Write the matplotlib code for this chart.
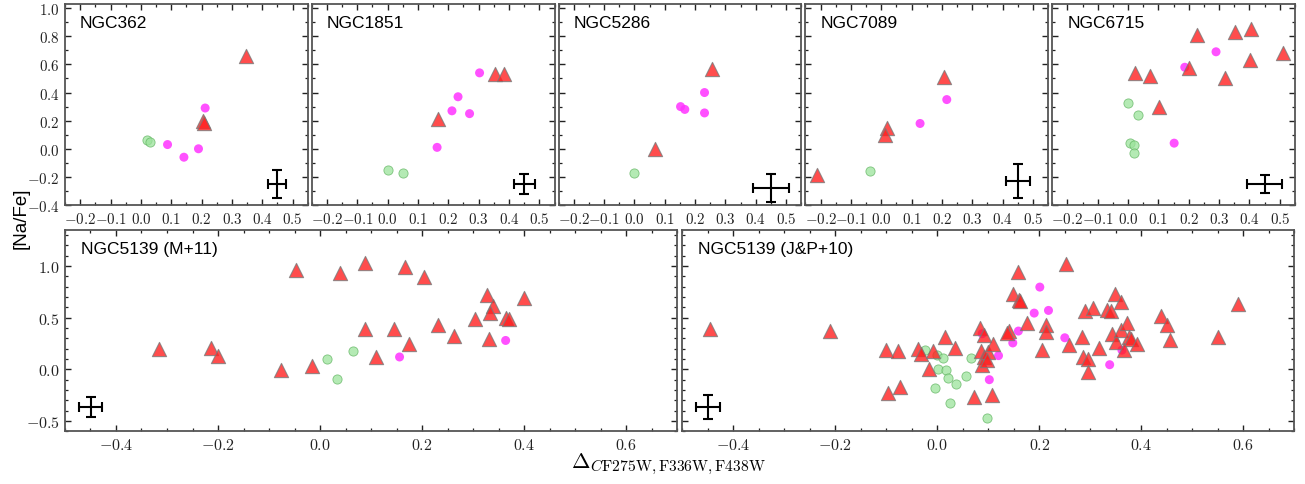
import matplotlib
matplotlib.use('Agg')
import matplotlib.pyplot as plt
from matplotlib.ticker import MultipleLocator, FuncFormatter

plt.rcParams['mathtext.fontset'] = 'cm'
plt.rcParams['mathtext.default'] = 'rm'
plt.rcParams['font.family'] = ['Liberation Sans', 'DejaVu Sans']

# ---------------- data ----------------
panel_names = ['NGC362', 'NGC1851', 'NGC5286', 'NGC7089', 'NGC6715']

ngc362_tri_x = [0.347, 0.205, 0.208]
ngc362_tri_y = [0.66, 0.20, 0.18]
ngc362_mag_x = [0.212, 0.190, 0.142, 0.088]
ngc362_mag_y = [0.29, 0.00, -0.06, 0.03]
ngc362_grn_x = [0.020, 0.030]
ngc362_grn_y = [0.065, 0.05]

ngc1851_tri_x = [0.165, 0.353, 0.383]
ngc1851_tri_y = [0.21, 0.53, 0.53]
ngc1851_mag_x = [0.163, 0.212, 0.232, 0.270, 0.303]
ngc1851_mag_y = [0.01, 0.27, 0.37, 0.25, 0.54]
ngc1851_grn_x = [0.000, 0.050]
ngc1851_grn_y = [-0.15, -0.17]

ngc5286_tri_x = [0.068, 0.257]
ngc5286_tri_y = [0.00, 0.565]
ngc5286_mag_x = [0.152, 0.166, 0.231, 0.231]
ngc5286_mag_y = [0.30, 0.28, 0.40, 0.255]
ngc5286_grn_x = [0.000]
ngc5286_grn_y = [-0.17]

ngc7089_tri_x = [-0.212, 0.018, 0.013, 0.207]
ngc7089_tri_y = [-0.19, 0.145, 0.10, 0.51]
ngc7089_mag_x = [0.128, 0.216]
ngc7089_mag_y = [0.18, 0.35]
ngc7089_grn_x = [-0.038]
ngc7089_grn_y = [-0.16]

ngc6715_tri_x = [0.022, 0.072, 0.103, 0.200, 0.228, 0.320, 0.354, 0.405, 0.403, 0.510]
ngc6715_tri_y = [0.54, 0.52, 0.30, 0.575, 0.81, 0.505, 0.83, 0.85, 0.635, 0.68]
ngc6715_mag_x = [0.187, 0.290, 0.152]
ngc6715_mag_y = [0.58, 0.69, 0.04]
ngc6715_grn_x = [0.000, 0.033, 0.008, 0.019, 0.019]
ngc6715_grn_y = [0.325, 0.24, 0.04, 0.03, -0.03]

# error bars: x, y, xerr, yerr
ngc362_err = [0.45, -0.25, 0.030, 0.10]
ngc1851_err = [0.45, -0.25, 0.035, 0.07]
ngc5286_err = [0.45, -0.28, 0.060, 0.10]
ngc7089_err = [0.45, -0.23, 0.040, 0.12]
ngc6715_err = [0.45, -0.25, 0.057, 0.065]

m11_tri_x = [-0.315, -0.213, -0.200, -0.077, -0.016, -0.047, 0.040, 0.089, 0.088,
             0.166, 0.203, 0.146, 0.175, 0.109, 0.232, 0.263, 0.303, 0.328, 0.340,
             0.334, 0.364, 0.370, 0.332, 0.400]
m11_tri_y = [0.20, 0.21, 0.125, -0.005, 0.03, 0.96, 0.93, 1.03, 0.39,
             0.99, 0.89, 0.39, 0.25, 0.12, 0.43, 0.32, 0.49, 0.72, 0.61,
             0.55, 0.50, 0.49, 0.29, 0.69]
m11_mag_x = [0.156, 0.364]
m11_mag_y = [0.12, 0.28]
m11_grn_x = [0.014, 0.033, 0.064]
m11_grn_y = [0.10, -0.095, 0.18]
m11_err = [-0.45, -0.365, 0.023, 0.10]

jp10_tri_x = [-0.445, -0.210, -0.100, -0.077, -0.037, -0.032, -0.008, 0.015, 0.035,
              -0.016, -0.096, -0.073, 0.072, 0.108, 0.083, 0.091, 0.085, 0.092,
              0.087, 0.100, 0.097, 0.110, 0.140, 0.137, 0.148, 0.158, 0.160, 0.162,
              0.175, 0.205, 0.213, 0.214, 0.252, 0.258, 0.283, 0.285, 0.295, 0.295,
              0.290, 0.305, 0.318, 0.333, 0.341, 0.348, 0.360, 0.342, 0.350, 0.360,
              0.371, 0.376, 0.379, 0.366, 0.391, 0.438, 0.450, 0.456, 0.550, 0.590]
jp10_tri_y = [0.39, 0.375, 0.19, 0.175, 0.20, 0.148, 0.182, 0.312, 0.207,
              0.005, -0.233, -0.175, -0.272, -0.25, 0.405, 0.33, 0.18, 0.12,
              0.04, 0.17, 0.095, 0.245, 0.375, 0.35, 0.73, 0.94, 0.674, 0.66,
              0.45, 0.187, 0.425, 0.36, 1.016, 0.232, 0.313, 0.12, 0.104, -0.026,
              0.565, 0.598, 0.206, 0.577, 0.564, 0.73, 0.65, 0.34, 0.265, 0.377,
              0.448, 0.313, 0.297, 0.19, 0.248, 0.513, 0.426, 0.287, 0.313, 0.635]
jp10_mag_x = [0.201, 0.190, 0.218, 0.159, 0.148, 0.120, 0.102, 0.088, 0.250, 0.338, 0.362]
jp10_mag_y = [0.797, 0.545, 0.571, 0.371, 0.256, 0.133, -0.10, 0.345, 0.306, 0.045, 0.186]
jp10_grn_x = [-0.025, -0.001, 0.012, 0.002, 0.017, 0.021, 0.037, 0.057, 0.067, -0.005, 0.025, 0.098]
jp10_grn_y = [0.19, 0.14, 0.113, 0.0, -0.01, -0.08, -0.145, -0.065, 0.113, -0.18, -0.326, -0.47]
jp10_err = [-0.45, -0.365, 0.023, 0.12]

top_data = [
    (ngc362_tri_x, ngc362_tri_y, ngc362_mag_x, ngc362_mag_y, ngc362_grn_x, ngc362_grn_y, ngc362_err),
    (ngc1851_tri_x, ngc1851_tri_y, ngc1851_mag_x, ngc1851_mag_y, ngc1851_grn_x, ngc1851_grn_y, ngc1851_err),
    (ngc5286_tri_x, ngc5286_tri_y, ngc5286_mag_x, ngc5286_mag_y, ngc5286_grn_x, ngc5286_grn_y, ngc5286_err),
    (ngc7089_tri_x, ngc7089_tri_y, ngc7089_mag_x, ngc7089_mag_y, ngc7089_grn_x, ngc7089_grn_y, ngc7089_err),
    (ngc6715_tri_x, ngc6715_tri_y, ngc6715_mag_x, ngc6715_mag_y, ngc6715_grn_x, ngc6715_grn_y, ngc6715_err),
]
bottom_names = ['NGC5139 (M+11)', 'NGC5139 (J&P+10)']
bottom_data = [
    (m11_tri_x, m11_tri_y, m11_mag_x, m11_mag_y, m11_grn_x, m11_grn_y, m11_err),
    (jp10_tri_x, jp10_tri_y, jp10_mag_x, jp10_mag_y, jp10_grn_x, jp10_grn_y, jp10_err),
]

# ---------------- styling ----------------
W, H = 1305, 485
fig = plt.figure(figsize=(W / 100, H / 100), dpi=100)

def fmt(v, pos):
    s = f'{abs(v):.1f}'
    if s == '0.0':
        return r'$\mathrm{0.0}$'
    return (r'$-\mathrm{' if v < 0 else r'$\mathrm{') + s + '}$'

def style(ax, xmaj, xmin, ymaj, ymin, ylabels, lsize):
    ax.xaxis.set_major_locator(MultipleLocator(xmaj))
    ax.xaxis.set_minor_locator(MultipleLocator(xmin))
    ax.yaxis.set_major_locator(MultipleLocator(ymaj))
    ax.yaxis.set_minor_locator(MultipleLocator(ymin))
    ax.xaxis.set_major_formatter(FuncFormatter(fmt))
    ax.yaxis.set_major_formatter(FuncFormatter(fmt))
    ax.tick_params(which='both', direction='in', top=True, right=True,
                   labelsize=lsize, colors='#222222', pad=4)
    ax.tick_params(which='major', length=4.5, width=1.0)
    ax.tick_params(which='minor', length=2.3, width=0.9)
    if not ylabels:
        ax.tick_params(labelleft=False)
    for sp in ax.spines.values():
        sp.set_color('#555555')
        sp.set_linewidth(1.3)

def draw(ax, d):
    tx, ty, mx, my, gx, gy, err = d
    ax.scatter(gx, gy, s=44, marker='o', facecolor='#9be39b', edgecolor='#5fb35f',
               linewidth=0.6, alpha=0.75, zorder=2)
    ax.scatter(mx, my, s=42, marker='o', facecolor='#ff33ff', edgecolor='none',
               alpha=0.85, zorder=3)
    ax.scatter(tx, ty, s=105, marker='^', facecolor='#ff2020', edgecolor='#7a7a7a',
               linewidth=0.8, alpha=0.8, zorder=4)
    ax.errorbar([err[0]], [err[1]], xerr=[err[2]], yerr=[err[3]], fmt='none',
                ecolor='black', elinewidth=1.5, capsize=3.5, capthick=1.5, zorder=5)

top_left0 = 65
top_step = 246.8
top_w = 242.7
top_y0, top_y1 = 5, 206
for i, (name, d) in enumerate(zip(panel_names, top_data)):
    left = top_left0 + i * top_step
    ax = fig.add_axes([left / W, (H - top_y1) / H, top_w / W, (top_y1 - top_y0) / H])
    draw(ax, d)
    ax.set_xlim(-0.25, 0.55)
    ax.set_ylim(-0.4, 1.03)
    style(ax, 0.1, 0.05, 0.2, 0.1, i == 0, 10.8)
    ax.text(0.062, 0.945, name, transform=ax.transAxes, ha='left', va='top',
            fontsize=12.5, color='black')

bot_lefts = [65, 682.3]
bot_w = 612
bot_y0, bot_y1 = 231, 432.3
for i, (name, d) in enumerate(zip(bottom_names, bottom_data)):
    ax = fig.add_axes([bot_lefts[i] / W, (H - bot_y1) / H, bot_w / W, (bot_y1 - bot_y0) / H])
    draw(ax, d)
    ax.set_xlim(-0.5, 0.7)
    ax.set_ylim(-0.6, 1.35)
    style(ax, 0.2, 0.05, 0.5, 0.1, i == 0, 11.5)
    ax.text(0.026, 0.945, name, transform=ax.transAxes, ha='left', va='top',
            fontsize=12.5, color='black')

fig.text(0.016, 0.55, '[Na/Fe]', rotation=90, ha='center', va='center', fontsize=13.5)
fig.text(0.512, 0.042, r'$\Delta_{\mathit{C}\mathrm{F275W,F336W,F438W}}$', ha='center',
         va='center', fontsize=16)

fig.savefig('out.png', dpi=100)
